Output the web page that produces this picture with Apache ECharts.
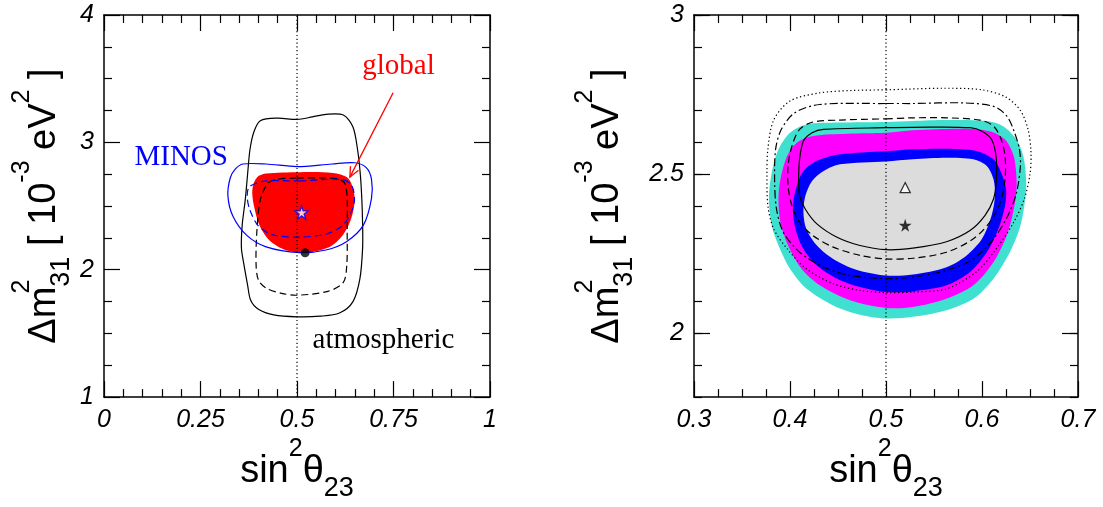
<!DOCTYPE html>
<html>
<head>
<meta charset="utf-8">
<script src="https://cdn.jsdelivr.net/npm/echarts@6.0.0/dist/echarts.min.js"></script>
<style>
  html, body { margin: 0; padding: 0; background: #fff; }
  #chart { width: 1103px; height: 507px; }
</style>
</head>
<body>
<div id="chart"></div>
<script>
// ---- axis ticks -------------------------------------------------------
const leftXTicks  = [0, 0.25, 0.5, 0.75, 1];
const leftYTicks  = [1, 2, 3, 4];
const rightXTicks = [0.3, 0.4, 0.5, 0.6, 0.7];
const rightYRange = [1.8, 3];
const rightYTicks = [2, 2.5, 3];

// ---- left panel: sin^2(theta23) vs dm^2_31 [1e-3 eV^2] ---------------
const atmSolid = [
  [0.50, 3.18], [0.54, 3.20], [0.575, 3.22], [0.62, 3.215], [0.645, 3.12],
  [0.657, 2.94], [0.664, 2.75], [0.668, 2.55], [0.670, 2.35], [0.670, 2.17],
  [0.663, 1.93], [0.645, 1.75], [0.61, 1.66], [0.56, 1.635], [0.50, 1.63],
  [0.44, 1.645], [0.40, 1.69], [0.38, 1.76], [0.372, 1.88], [0.362, 2.05],
  [0.356, 2.17], [0.358, 2.35], [0.366, 2.55], [0.372, 2.75], [0.378, 2.94],
  [0.388, 3.08], [0.405, 3.17], [0.45, 3.19]
];
const atmDashed = [
  [0.50, 2.72], [0.58, 2.72], [0.61, 2.71], [0.625, 2.67], [0.630, 2.55],
  [0.630, 2.30], [0.629, 2.04], [0.620, 1.90], [0.58, 1.83], [0.50, 1.80],
  [0.46, 1.815], [0.42, 1.855], [0.40, 1.92], [0.394, 2.04], [0.396, 2.30],
  [0.405, 2.55], [0.425, 2.68], [0.45, 2.71]
];
const minosSolid = [
  [0.36, 2.83], [0.42, 2.83], [0.50, 2.81], [0.59, 2.83], [0.65, 2.84],
  [0.68, 2.80], [0.693, 2.71], [0.693, 2.56], [0.672, 2.35], [0.628, 2.22],
  [0.575, 2.155], [0.506, 2.135], [0.42, 2.18], [0.37, 2.27], [0.334, 2.42],
  [0.321, 2.58], [0.327, 2.72], [0.34, 2.79]
];
const minosDashed = [
  [0.506, 2.697], [0.61, 2.71], [0.64, 2.67], [0.649, 2.554], [0.64, 2.45],
  [0.618, 2.347], [0.575, 2.28], [0.506, 2.256], [0.437, 2.274], [0.399, 2.347],
  [0.377, 2.477], [0.371, 2.58], [0.377, 2.653], [0.42, 2.697]
];
const globalRegion = [
  [0.506, 2.766], [0.593, 2.760], [0.631, 2.723], [0.646, 2.632], [0.649, 2.528],
  [0.640, 2.399], [0.618, 2.269], [0.584, 2.179], [0.524, 2.135], [0.472, 2.153],
  [0.429, 2.230], [0.403, 2.347], [0.390, 2.480], [0.384, 2.600], [0.388, 2.680],
  [0.400, 2.735], [0.420, 2.756]
];
const leftVertical = [[0.5, 1], [0.5, 4]];
const globalBest = [[0.512, 2.45]];
const atmBest = [[0.521, 2.133]];

// ---- right panel: zoomed view -----------------------------------------
const bandOuter = [
  [0.500, 2.664], [0.528, 2.667], [0.563, 2.670], [0.605, 2.667], [0.622, 2.651],
  [0.636, 2.609], [0.643, 2.557], [0.646, 2.484], [0.645, 2.422], [0.640, 2.338],
  [0.629, 2.255], [0.612, 2.172], [0.591, 2.109], [0.563, 2.073], [0.528, 2.052],
  [0.500, 2.047], [0.473, 2.059], [0.445, 2.088], [0.417, 2.141], [0.400, 2.203],
  [0.388, 2.276], [0.381, 2.338], [0.378, 2.422], [0.381, 2.505], [0.388, 2.578],
  [0.400, 2.630], [0.417, 2.656], [0.450, 2.662]
];
const bandMiddle = [
  [0.500, 2.630], [0.528, 2.638], [0.581, 2.643], [0.608, 2.635], [0.624, 2.609],
  [0.633, 2.557], [0.636, 2.484], [0.635, 2.422], [0.627, 2.318], [0.612, 2.224],
  [0.591, 2.151], [0.563, 2.109], [0.528, 2.083], [0.500, 2.080], [0.4625, 2.104],
  [0.431, 2.151], [0.412, 2.203], [0.398, 2.276], [0.390, 2.349], [0.388, 2.422],
  [0.390, 2.484], [0.397, 2.557], [0.407, 2.599], [0.424, 2.620], [0.460, 2.627]
];
const bandInner = [
  [0.500, 2.572], [0.528, 2.578], [0.563, 2.580], [0.594, 2.573], [0.612, 2.547],
  [0.620, 2.505], [0.625, 2.453], [0.624, 2.401], [0.617, 2.328], [0.605, 2.255],
  [0.5875, 2.193], [0.563, 2.151], [0.528, 2.132], [0.500, 2.130], [0.473, 2.146],
  [0.449, 2.172], [0.426, 2.219], [0.412, 2.276], [0.405, 2.338], [0.403, 2.401],
  [0.407, 2.463], [0.414, 2.510], [0.428, 2.542], [0.452, 2.5625]
];
const coreRegion = [
  [0.500, 2.540], [0.528, 2.547], [0.563, 2.552], [0.591, 2.547], [0.605, 2.526],
  [0.612, 2.484], [0.6135, 2.432], [0.610, 2.370], [0.600, 2.297], [0.584, 2.245],
  [0.563, 2.208], [0.528, 2.185], [0.500, 2.182], [0.469, 2.200], [0.445, 2.234],
  [0.428, 2.276], [0.417, 2.328], [0.414, 2.380], [0.416, 2.432], [0.423, 2.479],
  [0.435, 2.510], [0.452, 2.531]
];
const fitSolid = [
  [0.500, 2.646], [0.546, 2.648], [0.5875, 2.646], [0.600, 2.635], [0.610, 2.609],
  [0.6146, 2.557], [0.615, 2.484], [0.612, 2.422], [0.603, 2.370], [0.5875, 2.323],
  [0.563, 2.288], [0.528, 2.268], [0.500, 2.263], [0.473, 2.276], [0.449, 2.302],
  [0.428, 2.344], [0.416, 2.390], [0.410, 2.432], [0.409, 2.484], [0.410, 2.547],
  [0.414, 2.604], [0.423, 2.630], [0.435, 2.641]
];
const fitDashed = [
  [0.500, 2.674], [0.528, 2.677], [0.563, 2.677], [0.598, 2.670], [0.612, 2.651],
  [0.620, 2.609], [0.624, 2.557], [0.624, 2.484], [0.619, 2.411], [0.608, 2.349],
  [0.591, 2.297], [0.563, 2.255], [0.528, 2.236], [0.500, 2.234], [0.473, 2.245],
  [0.445, 2.271], [0.424, 2.307], [0.410, 2.349], [0.402, 2.401], [0.398, 2.463],
  [0.398, 2.526], [0.402, 2.588], [0.410, 2.641], [0.424, 2.664], [0.452, 2.670]
];
const fitDashDot = [
  [0.500, 2.722], [0.528, 2.722], [0.580, 2.724], [0.612, 2.713], [0.626, 2.682],
  [0.634, 2.630], [0.639, 2.578], [0.640, 2.526], [0.636, 2.443], [0.627, 2.370],
  [0.612, 2.297], [0.591, 2.234], [0.563, 2.198], [0.528, 2.177], [0.500, 2.172],
  [0.4625, 2.182], [0.435, 2.208], [0.410, 2.255], [0.393, 2.318], [0.386, 2.390],
  [0.384, 2.474], [0.385, 2.578], [0.391, 2.641], [0.405, 2.693], [0.431, 2.719]
];
const fitDotted = [
  [0.500, 2.765], [0.560, 2.770], [0.600, 2.765], [0.625, 2.742], [0.640, 2.700],
  [0.648, 2.640], [0.651, 2.570], [0.650, 2.500], [0.644, 2.422], [0.633, 2.349],
  [0.615, 2.266], [0.594, 2.193], [0.563, 2.140], [0.528, 2.130], [0.500, 2.128],
  [0.473, 2.135], [0.445, 2.156], [0.417, 2.203], [0.397, 2.266], [0.383, 2.328],
  [0.377, 2.400], [0.376, 2.500], [0.377, 2.580], [0.383, 2.670], [0.400, 2.730],
  [0.430, 2.755], [0.465, 2.763]
];
const rightVertical = [[0.5, 1.8], [0.5, 3]];
const triangleBest = [[0.52, 2.458]];
const starBest = [[0.52, 2.34]];

// ---- helpers -----------------------------------------------------------
const SANS = '"Liberation Sans", Helvetica, Arial, sans-serif';
const SERIF = '"Liberation Serif", "Times New Roman", serif';
const STAR = 'path://M50,0 L61,35 L98,35 L68,57 L79,91 L50,70 L21,91 L32,57 L2,35 L39,35 Z';

const step = t => +(t[1] - t[0]).toFixed(6);
const black = { color: '#000', width: 1.2 };
const tickLabel = { color: '#000', fontFamily: SANS, fontSize: 25, fontStyle: 'italic' };

const titleStyle = {
  color: '#000', fontFamily: SANS, fontSize: 38,
  rich: {
    m:   { fontFamily: SANS, fontSize: 38, color: '#000' },
    up:  { fontFamily: SANS, fontSize: 25, color: '#000', padding: [0, 0, 44, 0] },
    upS: { fontFamily: SANS, fontSize: 25, color: '#000', padding: [0, 0, 44, 0], width: 0 },
    dn:  { fontFamily: SANS, fontSize: 27, color: '#000', padding: [34, 0, 0, 0] }
  }
};
const xTitle = '{m|sin}{up|2}{m|θ}{dn|23}';
const yTitle = '{m|Δm}{upS|2}{dn|31}{m| [ 10}{up|-3}{m| eV}{up|2}{m| ]}';

function valueAxis(gridIndex, position, min, max, extra) {
  return Object.assign({
    type: 'value', gridIndex, position, min, max,
    axisLine: { show: true, onZero: false, lineStyle: { color: '#000', width: 1.5 } },
    axisTick: { show: true, inside: true, length: 16, lineStyle: black },
    minorTick: { show: false },
    axisLabel: { show: false },
    splitLine: { show: false },
    minorSplitLine: { show: false }
  }, extra);
}

function ticked(ticks, minorSplit) {
  return {
    interval: step(ticks),
    minorTick: { show: true, splitNumber: minorSplit, length: 8, lineStyle: black }
  };
}

function shape(xi, yi, pts, style, z) {
  return {
    type: 'custom', xAxisIndex: xi, yAxisIndex: yi, z, silent: true,
    data: [pts[0]],
    renderItem: (params, api) => ({
      type: 'polygon',
      shape: { points: pts.map(p => api.coord(p)), smooth: 0.3 },
      style
    })
  };
}
const stroke = (color, dash, w) => ({ fill: 'none', stroke: color, lineWidth: w || 1.2, lineDash: dash || null });
const fill = color => ({ fill: color, stroke: null });

function vline(xi, yi, pts) {
  return {
    type: 'line', xAxisIndex: xi, yAxisIndex: yi, data: pts, symbol: 'none', z: 7, silent: true,
    lineStyle: { color: '#000', width: 1.2, type: [1.2, 2.6] }
  };
}

const chart = echarts.init(document.getElementById('chart'), null, { renderer: 'canvas' });

chart.setOption({
  animation: false,
  backgroundColor: '#fff',
  grid: [
    { left: 104, top: 15, width: 386, height: 384 },
    { left: 694, top: 15, width: 384, height: 384 }
  ],
  xAxis: [
    valueAxis(0, 'bottom', leftXTicks[0], leftXTicks[leftXTicks.length - 1], Object.assign(ticked(leftXTicks, 5), {
      axisLabel: Object.assign({ show: true, margin: 10 }, tickLabel),
      name: xTitle, nameLocation: 'middle', nameGap: 38, nameTextStyle: titleStyle
    })),
    valueAxis(0, 'top', leftXTicks[0], leftXTicks[leftXTicks.length - 1], ticked(leftXTicks, 5)),
    valueAxis(1, 'bottom', rightXTicks[0], rightXTicks[rightXTicks.length - 1], Object.assign(ticked(rightXTicks, 4), {
      axisLabel: Object.assign({ show: true, margin: 10 }, tickLabel),
      name: xTitle, nameLocation: 'middle', nameGap: 38, nameTextStyle: titleStyle
    })),
    valueAxis(1, 'top', rightXTicks[0], rightXTicks[rightXTicks.length - 1], ticked(rightXTicks, 4))
  ],
  yAxis: [
    valueAxis(0, 'left', leftYTicks[0], leftYTicks[leftYTicks.length - 1], Object.assign(ticked(leftYTicks, 4), {
      axisLabel: Object.assign({ show: true, margin: 10 }, tickLabel),
      name: yTitle, nameLocation: 'middle', nameRotate: 90, nameGap: 25, nameTextStyle: titleStyle
    })),
    valueAxis(0, 'right', leftYTicks[0], leftYTicks[leftYTicks.length - 1], ticked(leftYTicks, 4)),
    valueAxis(1, 'left', rightYRange[0], rightYRange[1], {
      axisTick: { show: true, inside: true, length: 16, lineStyle: black, customValues: rightYTicks },
      axisLabel: Object.assign({ show: true, margin: 10, customValues: rightYTicks }, tickLabel),
      name: yTitle, nameLocation: 'middle', nameRotate: 90, nameGap: 52, nameTextStyle: titleStyle
    }),
    valueAxis(1, 'left', rightYRange[0], rightYRange[1], {
      interval: 0.1, axisLine: { show: false },
      axisTick: { show: true, inside: true, length: 8, lineStyle: black }
    }),
    valueAxis(1, 'right', rightYRange[0], rightYRange[1], {
      axisTick: { show: true, inside: true, length: 16, lineStyle: black, customValues: rightYTicks }
    }),
    valueAxis(1, 'right', rightYRange[0], rightYRange[1], {
      interval: 0.1, axisLine: { show: false },
      axisTick: { show: true, inside: true, length: 8, lineStyle: black }
    })
  ],
  series: [
    // left panel
    shape(0, 0, globalRegion, fill('#ff0000'), 2),
    shape(0, 0, atmSolid, stroke('#000'), 4),
    shape(0, 0, atmDashed, stroke('#000', [7, 4]), 4),
    shape(0, 0, minosSolid, stroke('#0000ff'), 5),
    shape(0, 0, minosDashed, stroke('#0000ff', [7, 4]), 5),
    vline(0, 0, leftVertical),
    {
      type: 'scatter', xAxisIndex: 0, yAxisIndex: 0, data: atmBest, z: 8, silent: true,
      symbol: 'circle', symbolSize: 9, itemStyle: { color: '#000' }
    },
    {
      type: 'scatter', xAxisIndex: 0, yAxisIndex: 0, data: globalBest, z: 8, silent: true,
      symbol: STAR, symbolSize: 13, itemStyle: { color: '#fff', borderColor: '#0000ff', borderWidth: 1.3 }
    },
    {
      type: 'custom', xAxisIndex: 0, yAxisIndex: 0, z: 9, silent: true, data: [[0.5, 2.5]],
      renderItem: (params, api) => {
        const txt = (s, at, color) => {
          const p = api.coord(at);
          return { type: 'text', x: p[0], y: p[1],
            style: { text: s, fill: color, font: '29px ' + SERIF, align: 'center', verticalAlign: 'middle' } };
        };
        const a = api.coord([0.749, 3.39]);
        const b = api.coord([0.637, 2.727]);
        const ang = Math.atan2(b[1] - a[1], b[0] - a[0]);
        const hl = 11, hw = 0.42;
        const h1 = [b[0] - hl * Math.cos(ang - hw), b[1] - hl * Math.sin(ang - hw)];
        const h2 = [b[0] - hl * Math.cos(ang + hw), b[1] - hl * Math.sin(ang + hw)];
        const red = { fill: 'none', stroke: '#ff0000', lineWidth: 1.3 };
        return { type: 'group', children: [
          txt('MINOS', [0.2, 2.88], '#0000ff'),
          txt('global', [0.763, 3.598], '#ff0000'),
          txt('atmospheric', [0.724, 1.442], '#000'),
          { type: 'polyline', shape: { points: [a, b] }, style: red },
          { type: 'polyline', shape: { points: [h1, b, h2] }, style: red }
        ] };
      }
    },
    // right panel
    shape(2, 2, bandOuter, fill('#40e0d0'), 2),
    shape(2, 2, bandMiddle, fill('#ff00ff'), 2),
    shape(2, 2, bandInner, fill('#0000ff'), 2),
    shape(2, 2, coreRegion, fill('#dcdcdc'), 2),
    shape(2, 2, fitSolid, stroke('#000'), 4),
    shape(2, 2, fitDashed, stroke('#000', [7, 4]), 4),
    shape(2, 2, fitDashDot, stroke('#000', [8, 3, 2, 3]), 4),
    shape(2, 2, fitDotted, stroke('#000', [1.3, 2.6]), 4),
    vline(2, 2, rightVertical),
    {
      type: 'scatter', xAxisIndex: 2, yAxisIndex: 2, data: triangleBest, z: 8, silent: true,
      symbol: 'triangle', symbolSize: 10, itemStyle: { color: '#fff', borderColor: '#000', borderWidth: 1.3 }
    },
    {
      type: 'scatter', xAxisIndex: 2, yAxisIndex: 2, data: starBest, z: 8, silent: true,
      symbol: STAR, symbolSize: 13, itemStyle: { color: '#000' }
    }
  ]
});
</script>
</body>
</html>
